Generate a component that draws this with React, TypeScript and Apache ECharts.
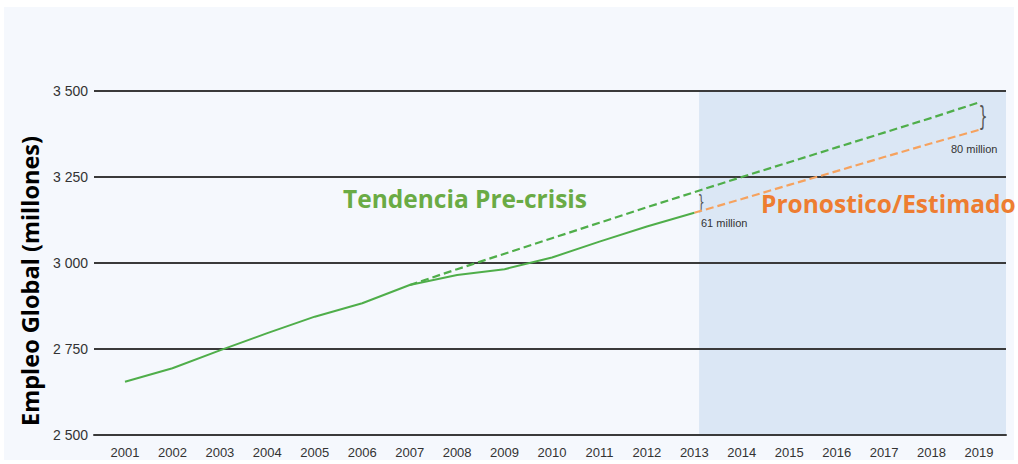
import React, { useEffect, useRef } from "react";
import * as echarts from "echarts";

const years = [2001, 2002, 2003, 2004, 2005, 2006, 2007, 2008, 2009, 2010, 2011, 2012, 2013, 2014, 2015, 2016, 2017, 2018, 2019];
const actualYears = [2001, 2002, 2003, 2004, 2005, 2006, 2007, 2008, 2009, 2010, 2011, 2012, 2013];
const actualValues = [2655, 2694, 2746, 2796, 2844, 2883, 2936, 2965, 2982, 3016, 3062, 3106, 3146];
const trendYears = [2007, 2008, 2009, 2010, 2011, 2012, 2013, 2014, 2015, 2016, 2017, 2018, 2019];
const trendValues = [2936, 2982, 3027, 3072, 3117, 3162, 3206, 3250, 3293, 3336, 3379, 3422, 3467];
const forecastYears = [2013, 2014, 2015, 2016, 2017, 2018, 2019];
const forecastValues = [3146, 3186, 3227, 3267, 3308, 3348, 3387];
const yTicks = [2500, 2750, 3000, 3250, 3500];
const forecastStart = 2013.1;
const gap2013Label = "61 million";
const gap2019Label = "80 million";

const GREEN = "#4fae4a";
const ORANGE = "#f6a25e";

export default function App() {
  const ref = useRef<HTMLDivElement>(null);
  useEffect(() => {
    if (!ref.current) return;
    const chart = echarts.init(ref.current, null, { renderer: "svg" });
    const xMin = 2000.347;
    const xMax = 2019.569;
    const tickFont = "'Liberation Sans Narrow', 'Liberation Sans', Arial, sans-serif";
    const titleFont = "'Open Sans', Lato, sans-serif";
    chart.setOption({
      animation: false,
      backgroundColor: "#ffffff",
      grid: { left: 94, right: 12, top: 91, bottom: 29, containLabel: false },
      xAxis: {
        type: "value",
        min: xMin,
        max: xMax,
        axisLine: { show: true, lineStyle: { color: "#3a3a3a", width: 2 } },
        axisTick: { show: false },
        splitLine: { show: false },
        axisLabel: {
          customValues: years,
          formatter: (v: number) => String(v),
          color: "#333",
          fontSize: 13,
          fontFamily: tickFont,
          margin: 11,
        },
      },
      yAxis: {
        type: "value",
        min: yTicks[0],
        max: yTicks[yTicks.length - 1],
        interval: 250,
        axisLine: { show: false },
        axisTick: { show: false },
        splitLine: { show: true, lineStyle: { color: "#3a3a3a", width: 2 } },
        axisLabel: {
          formatter: (v: number) => {
            const s = String(v);
            return s.slice(0, s.length - 3) + " " + s.slice(s.length - 3);
          },
          color: "#333",
          fontSize: 14,
          fontFamily: tickFont,
          margin: 6,
        },
      },
      series: [
        {
          type: "line",
          name: "trend",
          data: trendYears.map((y, i) => [y, trendValues[i]]),
          showSymbol: false,
          lineStyle: { color: GREEN, width: 2.2, type: [8, 4] },
          z: 3,
        },
        {
          type: "line",
          name: "forecast",
          data: forecastYears.map((y, i) => [y, forecastValues[i]]),
          showSymbol: false,
          lineStyle: { color: ORANGE, width: 2.2, type: [8, 4] },
          z: 3,
        },
        {
          type: "line",
          name: "actual",
          data: actualYears.map((y, i) => [y, actualValues[i]]),
          showSymbol: false,
          lineStyle: { color: GREEN, width: 2 },
          z: 4,
        },
      ],
    });

    const p = (x: number, y: number) => chart.convertToPixel({ gridIndex: 0 }, [x, y]) as number[];
    const shadeTL = p(forecastStart, yTicks[yTicks.length - 1]);
    const shadeBR = p(xMax, yTicks[0]);
    const iT = trendYears.indexOf(2013);
    const iF = forecastYears.indexOf(2013);
    const b13a = p(2013, trendValues[iT]);
    const b13b = p(2013, forecastValues[iF]);
    const b19a = p(2019, trendValues[trendValues.length - 1]);
    const b19b = p(2019, forecastValues[forecastValues.length - 1]);
    const h13 = b13b[1] - b13a[1];
    const h19 = b19b[1] - b19a[1];

    chart.setOption({
      graphic: [
        {
          type: "rect",
          z: -20,
          silent: true,
          shape: { x: 4, y: 7, width: 1010, height: 453 },
          style: { fill: "#f5f8fd" },
        },
        {
          type: "rect",
          z: -10,
          silent: true,
          shape: { x: shadeTL[0], y: shadeTL[1], width: shadeBR[0] - shadeTL[0], height: shadeBR[1] - shadeTL[1] },
          style: { fill: "#dbe7f5" },
        },
        {
          type: "text",
          x: b13a[0] + 7,
          y: (b13a[1] + b13b[1]) / 2,
          scaleX: 0.55,
          style: {
            text: "}",
            fill: "#555",
            font: `normal ${Math.round(h13 * 0.95)}px 'DejaVu Sans'`,
            align: "center",
            verticalAlign: "middle",
          },
        },
        {
          type: "text",
          x: b19a[0] + 4,
          y: (b19a[1] + b19b[1]) / 2,
          scaleX: 0.55,
          style: {
            text: "}",
            fill: "#555",
            font: `normal ${Math.round(h19 * 0.95)}px 'DejaVu Sans'`,
            align: "center",
            verticalAlign: "middle",
          },
        },
        {
          type: "text",
          left: 701,
          top: 217,
          style: { text: gap2013Label, fill: "#333", font: "normal 11px 'Liberation Sans Narrow', 'Liberation Sans', sans-serif" },
        },
        {
          type: "text",
          left: 951,
          top: 143,
          style: { text: gap2019Label, fill: "#333", font: "normal 11px 'Liberation Sans Narrow', 'Liberation Sans', sans-serif" },
        },
        {
          type: "text",
          left: 343,
          top: 186,
          style: { text: "Tendencia Pre-crisis", fill: "#6aab45", font: `bold 24.5px ${titleFont}` },
        },
        {
          type: "text",
          left: 761,
          top: 191,
          style: { text: "Pronostico/Estimado", fill: "#ee7d31", font: `bold 24.5px ${titleFont}` },
        },
        {
          type: "text",
          x: 30,
          y: 281,
          rotation: Math.PI / 2,
          style: {
            text: "Empleo Global (millones)",
            fill: "#000",
            font: `bold 23.5px ${titleFont}`,
            align: "center",
            verticalAlign: "middle",
          },
        },
      ],
    });

    return () => chart.dispose();
  }, []);

  return (
    <div
      ref={ref}
      style={{ position: "fixed", left: 0, top: 0, width: 1018, height: 464 }}
    />
  );
}
